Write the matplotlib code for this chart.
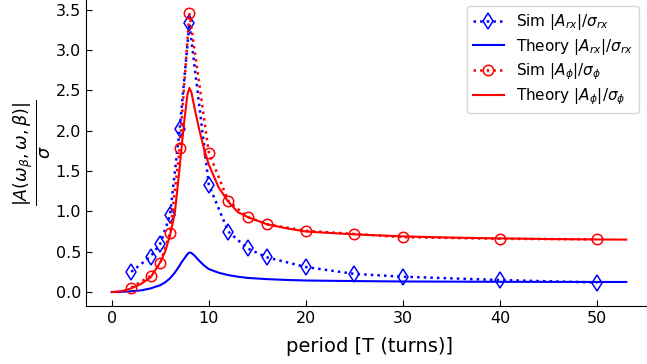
import matplotlib
matplotlib.use("Agg")
import matplotlib.pyplot as plt

# Simulated amplitudes at the sampled modulation periods
sim_period = [2, 4, 5, 6, 7, 8, 10, 12, 14, 16, 20, 25, 30, 40, 50]
sim_arx = [0.25, 0.44, 0.60, 0.95, 2.02, 3.33, 1.33, 0.75, 0.54, 0.43, 0.31, 0.225, 0.19, 0.149, 0.118]
sim_aphi = [0.054, 0.20, 0.36, 0.73, 1.78, 3.46, 1.73, 1.13, 0.93, 0.84, 0.76, 0.72, 0.68, 0.66, 0.654]

# Theoretical response curves
th_period = [0, 1, 2, 3, 4, 5, 5.5, 6, 6.5, 7, 7.2, 7.5, 7.8, 8, 8.2, 8.5, 9, 9.5, 10,
             11, 12, 13, 14, 16, 18, 20, 25, 30, 35, 40, 45, 50, 53]
th_arx = [0.0, 0.003, 0.01, 0.02, 0.045, 0.085, 0.12, 0.17, 0.24, 0.33, 0.37, 0.42, 0.47, 0.49,
          0.485, 0.455, 0.39, 0.33, 0.285, 0.24, 0.21, 0.19, 0.175, 0.16, 0.15, 0.143,
          0.136, 0.131, 0.129, 0.127, 0.126, 0.125, 0.125]
th_aphi = [0.0, 0.01, 0.045, 0.10, 0.18, 0.37, 0.50, 0.70, 0.98, 1.55, 1.80, 2.15, 2.45, 2.53,
           2.48, 2.30, 2.02, 1.78, 1.58, 1.30, 1.12, 0.99, 0.93, 0.84, 0.79, 0.75,
           0.715, 0.69, 0.675, 0.665, 0.657, 0.652, 0.65]

fig = plt.figure(figsize=(6.47, 3.64), dpi=100)
ax = fig.add_axes([86 / 647, 58 / 364, 566 / 647, 307 / 364])

ax.plot(sim_period, sim_arx, ls=':', lw=1.8, color='blue', marker='d', ms=8,
        mfc='none', mec='blue', mew=1.1, label=r'Sim $|A_{rx}|/\sigma_{rx}$')
ax.plot(th_period, th_arx, ls='-', lw=1.5, color='blue', label=r'Theory $|A_{rx}|/\sigma_{rx}$')
ax.plot(sim_period, sim_aphi, ls=':', lw=1.8, color='red', marker='o', ms=7.5,
        mfc='none', mec='red', mew=1.1, label=r'Sim $|A_{\phi}|/\sigma_{\phi}$')
ax.plot(th_period, th_aphi, ls='-', lw=1.5, color='red', label=r'Theory $|A_{\phi}|/\sigma_{\phi}$')

ax.set_xticks([0, 10, 20, 30, 40, 50])
ax.set_yticks([0, 0.5, 1.0, 1.5, 2.0, 2.5, 3.0, 3.5])
ax.tick_params(direction='in', labelsize=11.5, length=4)
for side in ('top', 'right'):
    ax.spines[side].set_visible(False)

ax.set_xlabel('period [T (turns)]', fontsize=14, labelpad=8)
ax.set_ylabel(r'$\frac{|A(\omega_\beta,\omega,\beta)|}{\sigma}$', fontsize=18, labelpad=2)

ax.legend(loc='upper left', bbox_to_anchor=(467 / 647, 1 - 6 / 364), bbox_transform=fig.transFigure,
          fontsize=11, borderaxespad=0, handlelength=2.0, labelspacing=0.3)

fig.savefig('out.png', dpi=100)
